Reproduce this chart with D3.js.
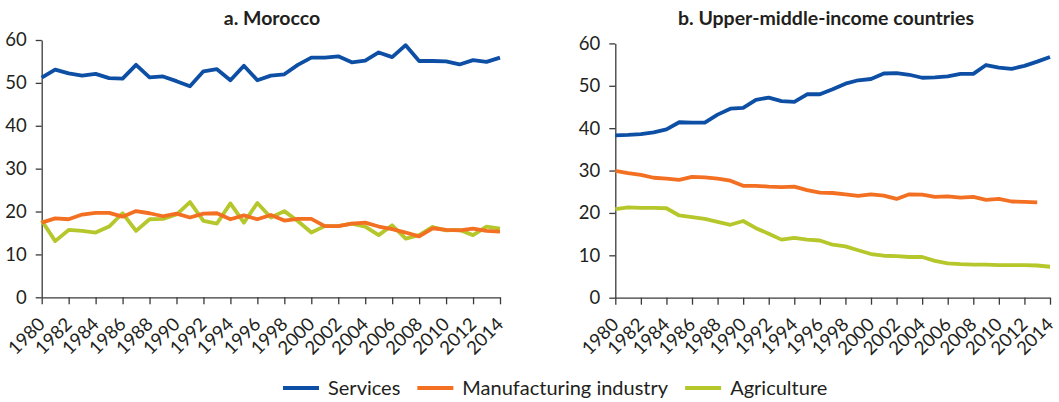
<!DOCTYPE html>
<html><head><meta charset="utf-8">
<script src="https://cdn.jsdelivr.net/npm/d3@7"></script>
<style>
body{margin:0;background:#fff}
svg{display:block}
text{font-family:Lato,"Open Sans",sans-serif;fill:#231f20}
</style>
</head><body>
<svg id="chart" width="1059" height="402"></svg>
<script>
const years = [1980,1981,1982,1983,1984,1985,1986,1987,1988,1989,1990,1991,1992,1993,1994,1995,1996,1997,1998,1999,2000,2001,2002,2003,2004,2005,2006,2007,2008,2009,2010,2011,2012,2013,2014];
const xTickYears = [1980,1982,1984,1986,1988,1990,1992,1994,1996,1998,2000,2002,2004,2006,2008,2010,2012,2014];
const yTicks = [0,10,20,30,40,50,60];
const seriesNames = ["Services","Manufacturing industry","Agriculture"];
const panelTitles = ["a. Morocco","b. Upper-middle-income countries"];

const moroccoServices = [51.2,53.1,52.2,51.7,52.1,51.1,51.0,54.2,51.3,51.5,50.4,49.2,52.7,53.2,50.6,54.0,50.6,51.7,52.0,54.2,55.9,55.9,56.2,54.8,55.2,57.1,56.0,58.8,55.1,55.1,55.0,54.3,55.3,54.9,55.9];
const moroccoManufacturing = [17.4,18.4,18.2,19.3,19.7,19.7,18.8,20.1,19.6,18.9,19.5,18.6,19.5,19.6,18.2,19.1,18.2,19.2,17.9,18.3,18.3,16.6,16.6,17.2,17.4,16.5,15.9,15.1,14.2,16.1,15.7,15.6,16.0,15.5,15.3];
const moroccoAgriculture = [17.9,13.1,15.7,15.5,15.1,16.5,19.6,15.5,18.2,18.3,19.3,22.2,17.8,17.2,21.9,17.4,22.0,18.6,20.1,17.8,15.1,16.6,16.6,17.2,16.5,14.5,16.8,13.7,14.5,16.4,15.6,15.7,14.5,16.5,16.0];

const umicServices = [38.3,38.4,38.6,39.0,39.7,41.4,41.3,41.3,43.2,44.6,44.8,46.7,47.2,46.4,46.2,48.0,48.0,49.2,50.5,51.3,51.6,52.9,53.0,52.6,51.9,52.0,52.2,52.8,52.8,54.9,54.3,54.0,54.7,55.7,56.8];
const umicManufacturing = [29.9,29.4,29.0,28.3,28.1,27.8,28.5,28.4,28.1,27.6,26.4,26.4,26.2,26.1,26.2,25.4,24.8,24.7,24.4,24.0,24.4,24.1,23.3,24.4,24.3,23.8,23.9,23.6,23.8,23.1,23.3,22.7,22.6,22.5,null];
const umicAgriculture = [20.9,21.3,21.2,21.2,21.1,19.4,19.0,18.6,17.9,17.2,18.1,16.4,15.1,13.7,14.1,13.7,13.5,12.5,12.1,11.2,10.3,9.9,9.8,9.6,9.6,8.7,8.1,7.9,7.8,7.8,7.7,7.7,7.7,7.6,7.3];

const colors = ["#0d4fa4","#f36f21","#b5c72b"];
const svg = d3.select("#chart");

function drawPanel(title, servicesVals, manufVals, agriVals, box) {
  const x = d3.scaleLinear().domain([1980,2014]).range([box.x0, box.x1]);
  const y = d3.scaleLinear().domain([0,60]).range([box.yb, box.yt]);
  const g = svg.append("g");

  g.append("text").attr("x", box.tx).attr("y", 25)
    .attr("text-anchor","middle").attr("font-weight","700").attr("font-size",19.5)
    .text(title);

  const ya = g.append("g").attr("transform",`translate(${box.x0},0)`)
    .call(d3.axisLeft(y).tickValues(yTicks).tickSize(6).tickSizeOuter(0).tickPadding(9));
  ya.selectAll("text").attr("font-size",18.5).attr("font-family","Lato,'Open Sans',sans-serif").attr("fill","#231f20");

  const xa = g.append("g").attr("transform",`translate(0,${box.yb})`)
    .call(d3.axisBottom(x).tickValues(xTickYears).tickSize(7).tickSizeOuter(0).tickFormat(d3.format("d")));
  xa.selectAll("text").attr("font-size",18.5).attr("font-family","Lato,'Open Sans',sans-serif").attr("fill","#231f20")
    .attr("y",null).attr("dy",null).attr("text-anchor","end")
    .attr("transform","translate(4,28) rotate(-45)");
  g.selectAll(".domain, .tick line").attr("stroke","#3a3a3a").attr("stroke-width",1.3);

  const line = d3.line().defined(d => d != null).x((d,i) => x(years[i])).y(d => y(d));
  const order = [[agriVals,2],[manufVals,1],[servicesVals,0]];
  order.forEach(([vals,ci]) => {
    g.append("path").datum(vals).attr("d", line)
      .attr("fill","none").attr("stroke",colors[ci]).attr("stroke-width",3.8)
      .attr("stroke-linejoin","round");
  });
}

drawPanel(panelTitles[0], moroccoServices, moroccoManufacturing, moroccoAgriculture,
  {x0:41.7, x1:500, yb:297.3, yt:40, tx:272});
drawPanel(panelTitles[1], umicServices, umicManufacturing, umicAgriculture,
  {x0:615.3, x1:1050, yb:297.7, yt:43.4, tx:826});

// legend
const lg = svg.append("g");
let lx = 283;
const ly = 388;
seriesNames.forEach((name,i) => {
  lg.append("line").attr("x1",lx).attr("x2",lx+36).attr("y1",ly).attr("y2",ly)
    .attr("stroke",colors[i]).attr("stroke-width",4);
  const t = lg.append("text").attr("x",lx+45).attr("y",ly).attr("dy","0.35em")
    .attr("font-size",20).text(name);
  lx = lx + 45 + t.node().getComputedTextLength() + 17;
});
</script>
</body></html>
